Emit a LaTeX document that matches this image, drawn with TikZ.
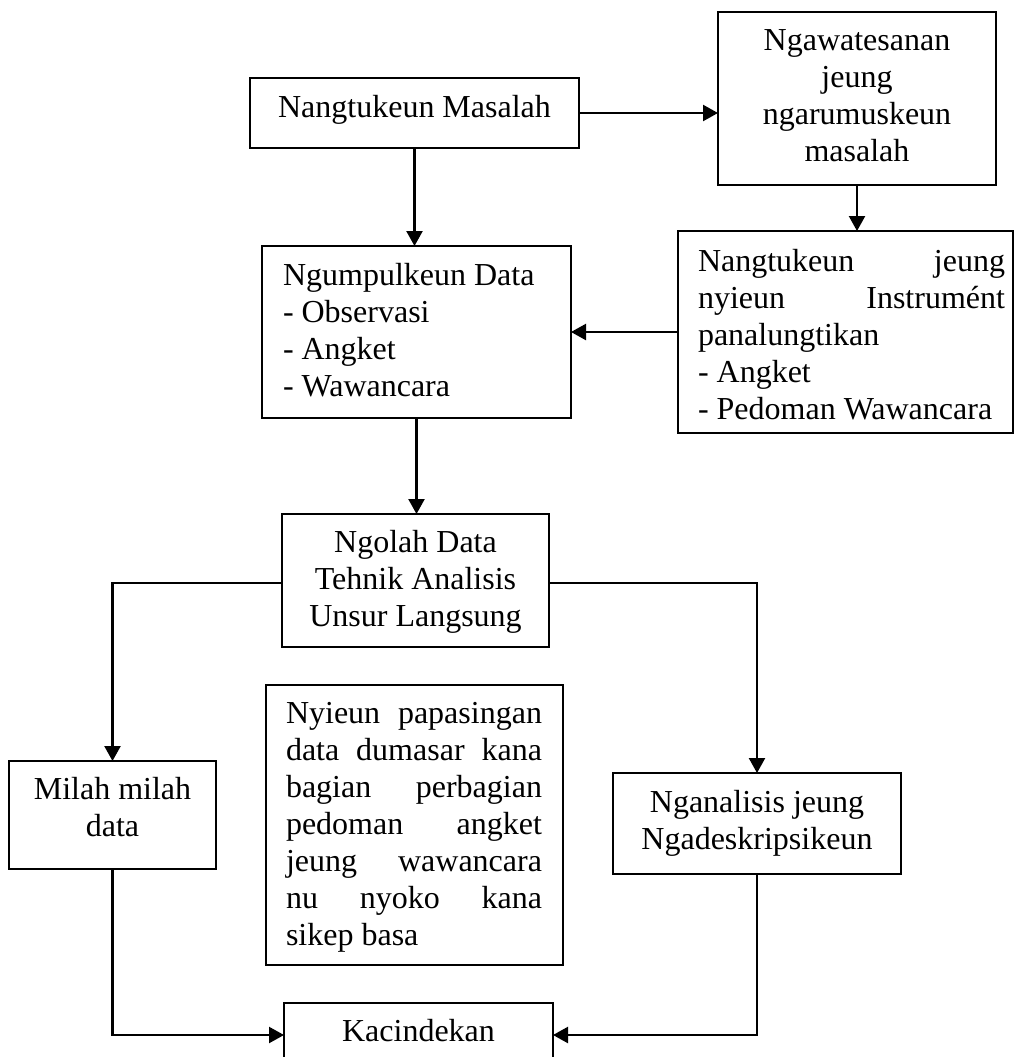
\documentclass[tikz,border=0pt]{standalone}
\usepackage{fontspec}
\setmainfont{Liberation Serif}
\usetikzlibrary{arrows.meta}
\newcommand\fbtext[4]{\parbox[t][#1][t]{#2}{\parskip=0pt\parindent=0pt\tolerance=10000\hyphenpenalty=10000\exhyphenpenalty=10000\vspace*{#3}#4\par}}
\begin{document}
\begin{tikzpicture}[x=1pt,y=-1pt,
  font=\fontsize{32}{37}\selectfont,
  box/.style={draw=black,line width=2pt,inner sep=0pt,outer sep=0pt,anchor=north west},
  arr/.style={draw=black,line width=2.3pt,-{Triangle[length=15pt,width=16pt]}}]
\useasboundingbox (0,0) rectangle (1015,1057);
\clip (0,0) rectangle (1015,1057);
\fill[white] (0,0) rectangle (1015,1057);

\node[box] (b1) at (250,78) {\fbtext{70pt}{329pt}{14pt}{\centering\strut Nangtukeun Masalah}};
\node[box] (b2) at (718,12) {\fbtext{173pt}{278pt}{13pt}{\centering\strut Ngawatesanan\\ jeung\\ ngarumuskeun\\ masalah}};
\node[box] (b3) at (678,231) {\fbtext{202pt}{335pt}{15pt}{\leftskip=20pt\rightskip=8pt\strut Nangtukeun jeung\linebreak nyieun Instrumént\linebreak panalungtikan\newline - Angket\newline - Pedoman Wawancara}};
\node[box] (b4) at (262,246) {\fbtext{172pt}{309pt}{14pt}{\leftskip=21pt\strut Ngumpulkeun Data\newline - Observasi\newline - Angket\newline - Wawancara}};
\node[box] (b5) at (282,514) {\fbtext{133pt}{267pt}{13pt}{\centering\strut Ngolah Data\\ Tehnik Analisis\\ Unsur Langsung}};
\node[box] (milah) at (9,761) {\fbtext{108pt}{207pt}{13pt}{\centering\strut Milah milah\\ data}};
\node[box] (mid) at (266,685) {\fbtext{280pt}{297pt}{13pt}{\leftskip=20pt\rightskip=21pt\strut Nyieun papasingan\linebreak data dumasar kana\linebreak bagian perbagian\linebreak pedoman angket\linebreak jeung wawancara\linebreak nu nyoko kana\linebreak sikep basa}};
\node[box] (ngan) at (613,773) {\fbtext{101pt}{288pt}{14pt}{\centering\strut Nganalisis jeung\\ Ngadeskripsikeun}};
\node[box] (kac) at (284,1003) {\fbtext{64pt}{269pt}{13pt}{\centering\strut Kacindekan}};

\draw[arr] (b1.east) -- (b1.east -| b2.west);
\draw[arr] (b1.south) -- (b1.south |- b4.north);
\draw[arr] (b2.south) -- (b2.south |- b3.north);
\draw[arr] (b3.west) -- (b3.west -| b4.east);
\draw[arr] (b4.south) -- (b4.south |- b5.north);
\draw[arr] ([yshift=-2.5pt]b5.west) -| (milah.north);
\draw[arr] ([yshift=-2.5pt]b5.east) -| (ngan.north);
\draw[arr] (milah.south) |- (kac.west);
\draw[arr] (ngan.south) |- (kac.east);
\end{tikzpicture}
\end{document}
